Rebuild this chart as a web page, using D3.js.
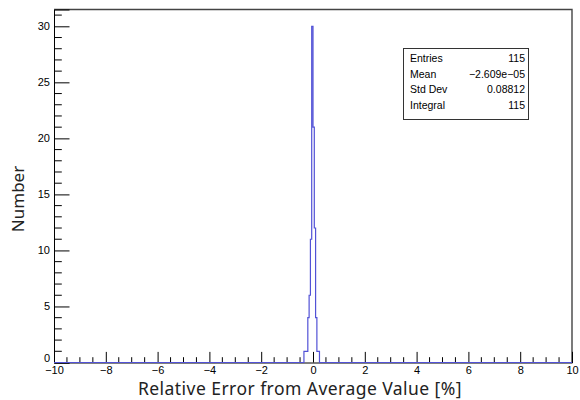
<!DOCTYPE html>
<html>
<head>
<meta charset="utf-8">
<script src="https://cdn.jsdelivr.net/npm/d3@7"></script>
<style>
  body { margin: 0; background: #fff; }
  svg { display: block; }
  .tick-label { font-family: "Liberation Sans", Arial, sans-serif; font-size: 11px; fill: #000; }
  .axis-title { font-family: "Noto Sans", sans-serif; fill: #222; }
  .stats text { font-family: "Liberation Sans", Arial, sans-serif; font-size: 10.5px; fill: #000; }
</style>
</head>
<body>
<svg class="chart" width="580" height="400"></svg>
<script>
// histogram: 400 bins on [-10, 10], only the filled ones are listed (lower edge, count)
const binWidth = 0.05;
const binLow = [-0.35, -0.30, -0.25, -0.20, -0.15, -0.10, -0.05, 0.00, 0.05, 0.10, 0.15, 0.20];
const binCount = [1, 1, 1, 4, 6, 11, 30, 21, 12, 4, 1, 1];

const xMajor = [-10, -8, -6, -4, -2, 0, 2, 4, 6, 8, 10];
const yMajor = [0, 5, 10, 15, 20, 25, 30];

const statNames = ['Entries', 'Mean', 'Std Dev', 'Integral'];
const statValues = ['115', '\u22122.609e\u221205', '0.08812', '115'];

const svg = d3.select('.chart');
const frame = { left: 54, right: 572, top: 9.5, bottom: 362.5 };

const x = d3.scaleLinear().domain([-10, 10]).range([frame.left, frame.right]);
const y = d3.scaleLinear().domain([0, 31.5]).range([frame.bottom, frame.top]);

// frame top / right
svg.append('path')
  .attr('d', `M${frame.left},${frame.top}H${frame.right}V${frame.bottom}`)
  .attr('fill', 'none')
  .attr('stroke', '#444')
  .attr('stroke-width', 1.4);

// y axis
const yAxis = d3.axisRight(y)
  .tickValues(yMajor)
  .tickSize(15.5)
  .tickFormat(d3.format('d'));
const gy = svg.append('g')
  .attr('transform', `translate(${frame.left},0)`)
  .call(yAxis);
gy.select('.domain').attr('stroke', '#000');
gy.selectAll('.tick line').attr('stroke', '#000');
gy.selectAll('.tick text')
  .attr('class', 'tick-label')
  .attr('x', -4)
  .attr('dy', d => d === 0 ? '-0.1em' : '0.32em')
  .attr('text-anchor', 'end');

gy.selectAll('.minor')
  .data(d3.range(0, 32).filter(v => v % 5 !== 0))
  .enter().append('line')
  .attr('class', 'minor')
  .attr('x1', 0).attr('x2', 7.8)
  .attr('y1', d => y(d)).attr('y2', d => y(d))
  .attr('stroke', '#000');

// x axis
const xAxis = d3.axisTop(x)
  .tickValues(xMajor)
  .tickSize(10.6)
  .tickFormat(d3.format('d'));
const gx = svg.append('g')
  .attr('transform', `translate(0,${frame.bottom})`)
  .call(xAxis);
gx.select('.domain').attr('stroke', '#000');
gx.selectAll('.tick line').attr('stroke', '#000');
gx.selectAll('.tick text')
  .attr('class', 'tick-label')
  .attr('y', 11.3)
  .attr('dy', null);

gx.selectAll('.minor')
  .data(d3.range(-19, 20).map(v => v * 0.5).filter(v => Math.abs(v % 2) > 1e-9))
  .enter().append('line')
  .attr('class', 'minor')
  .attr('y1', 0).attr('y2', -5.3)
  .attr('x1', d => x(d)).attr('x2', d => x(d))
  .attr('stroke', '#000');

// histogram outline (step shape), drawn over the full range like ROOT does
const pts = [[-10, 0]];
let prevEnd = null;
binLow.forEach((lo, i) => {
  if (prevEnd === null || Math.abs(lo - prevEnd) > 1e-9) {
    if (prevEnd !== null) pts.push([prevEnd, 0]);
    pts.push([lo, 0]);
  }
  pts.push([lo, binCount[i]], [lo + binWidth, binCount[i]]);
  prevEnd = lo + binWidth;
});
pts.push([prevEnd, 0], [10, 0]);
svg.append('path')
  .attr('d', d3.line().x(d => x(d[0])).y(d => y(d[1]))(pts))
  .attr('fill', 'none')
  .attr('stroke', '#5252d6')
  .attr('stroke-width', 1.2);

// axis titles
svg.append('text')
  .attr('class', 'axis-title')
  .attr('x', 300)
  .attr('y', 394.6)
  .attr('font-size', 17.5)
  .attr('letter-spacing', 0.45)
  .attr('text-anchor', 'middle')
  .text('Relative Error from Average Value [%]');

svg.append('text')
  .attr('class', 'axis-title')
  .attr('transform', 'translate(24,199) rotate(-90)')
  .attr('font-size', 17)
  .attr('text-anchor', 'middle')
  .text('Number');

// stats box
const stats = svg.append('g').attr('class', 'stats');
stats.append('rect')
  .attr('x', 403.5).attr('y', 48.5)
  .attr('width', 125).attr('height', 71)
  .attr('fill', '#fff')
  .attr('stroke', '#333')
  .attr('stroke-width', 1);
statNames.forEach((name, i) => {
  const by = 62 + i * 15.5;
  stats.append('text').attr('x', 410).attr('y', by).text(name);
  stats.append('text').attr('x', 525).attr('y', by).attr('text-anchor', 'end').text(statValues[i]);
});
</script>
</body>
</html>
